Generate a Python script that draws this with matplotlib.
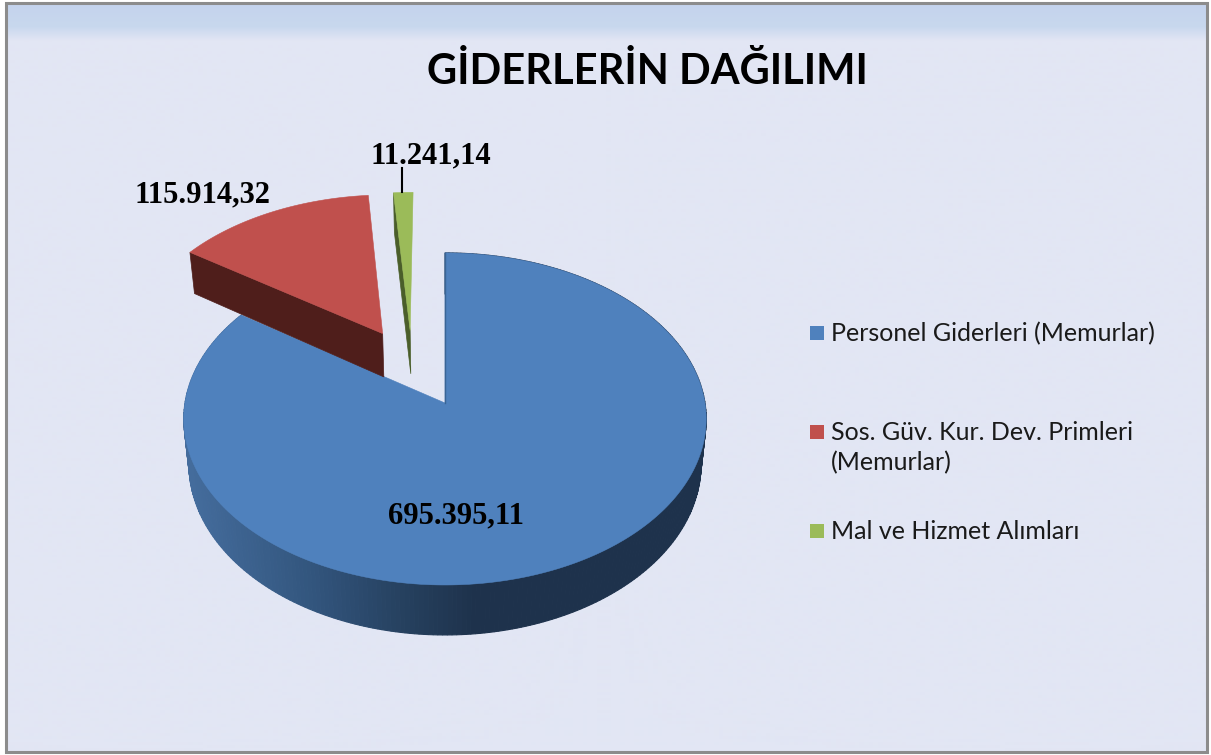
import numpy as np
import matplotlib; matplotlib.use("Agg")
import matplotlib.pyplot as plt
from matplotlib.patches import Rectangle

title = 'GİDERLERİN DAĞILIMI'
categories = ['Personel Giderleri (Memurlar)', 'Sos. Güv. Kur. Dev. Primleri\n(Memurlar)', 'Mal ve Hizmet Alımları']
values = [695395.11, 115914.32, 11241.14]
value_labels = ['695.395,11', '115.914,32', '11.241,14']

colors = ['#4F81BD', '#C0504D', '#9BBB59']
wall_colors = ['#1F3550', '#4F1E1B', '#4A5E2A']
explode = [(0, 0), (-0.25, 0.44), (-0.14, 0.46)]
label_pos = [(456, 516), (202, 195), (431, 156)]
legend_y = [333, 432, 531]

# perspective of the pie, in pixels of the picture
cx, cy = 445, 403
rx, ry = 260, 164.5
persp = 0.096
depth = 45.2
shrink = 0.02


def project(u, v, z=0):
    w = 1 + persp * v
    x = cx + rx * u / (w + shrink * z)
    y = cy + (-ry * v + depth * z) / w
    return x, y


def rim_color(x):
    xs = [190, 313, 402, 473]
    r = np.interp(x, xs, [68, 50, 38, 30])
    g = np.interp(x, xs, [108, 85, 65, 50])
    b = np.interp(x, xs, [156, 125, 95, 76])
    return (r / 255, g / 255, b / 255)


fig = plt.figure(figsize=(12.11, 7.55), dpi=100)
ax = fig.add_axes([0, 0, 1, 1])
ax.axis('off')

# background with the band on top
rows = np.arange(5, 753)
bg = np.zeros((len(rows), 1, 3))
bg[:, 0, 0] = np.interp(rows, [5, 28, 42, 753], [196, 200, 226, 226])
bg[:, 0, 1] = np.interp(rows, [5, 28, 42, 753], [211, 216, 230, 230])
bg[:, 0, 2] = np.interp(rows, [5, 28, 42, 753], [237, 238, 244, 244])
ax.imshow(bg / 255, extent=(6, 1207, 752, 3), aspect='auto', zorder=0)
ax.set_xlim(0, 1211)
ax.set_ylim(755, 0)
ax.add_patch(Rectangle((6, 3), 1201, 749, fill=False, ec='#8C8C8C', lw=2.2, zorder=1))

total = sum(values)
start = 0
for i, val in enumerate(values):
    end = start + val / total * 2 * np.pi
    th = np.linspace(start, end, max(int((end - start) * 60), 8))
    du, dv = explode[i]
    u = np.sin(th) + du
    v = np.cos(th) + dv

    # cut wall on the left edge of the exploded slices
    if i > 0:
        xt, yt = project(np.array([du, u[0]]), np.array([dv, v[0]]))
        xb, yb = project(np.array([du, u[0]]), np.array([dv, v[0]]), 1)
        ax.fill(np.r_[xt, xb[::-1]], np.r_[yt, yb[::-1]], color=wall_colors[i], lw=0.5, zorder=3 + i)

    # outer rim, only the blue one can be seen
    if i == 0:
        for j in range(len(th) - 1):
            xt, yt = project(u[j:j + 2], v[j:j + 2])
            xb, yb = project(u[j:j + 2], v[j:j + 2], 1)
            ax.fill(np.r_[xt, xb[::-1]], np.r_[yt, yb[::-1]], color=rim_color(xt.mean()),
                    lw=0.8, zorder=2)
        x0, y0 = project(np.array([du, u[0]]), np.array([dv, v[0]]))
        ax.plot(x0, y0, color='#3A6595', lw=1, zorder=4)

    x, y = project(np.r_[du, u], np.r_[dv, v])
    ax.fill(x, y, color=colors[i], lw=0.4, zorder=3 + i + 0.5)
    start = end

# leader of the small slice
ax.plot([402, 402], [168, 192], color='black', lw=1.5, zorder=8)

for lab, pos in zip(value_labels, label_pos):
    ax.text(pos[0], pos[1], lab, family='Liberation Serif', weight='bold', fontsize=22,
            color='black', ha='center', va='center', zorder=9)

ax.text(647, 72, title, family='Lato', weight='bold', fontsize=30, color='black',
        ha='center', va='center', zorder=9)

for name, col, ly in zip(categories, colors, legend_y):
    ax.add_patch(Rectangle((810, ly - 7), 14, 14, fc=col, ec='none', zorder=9))
    ax.text(831, ly - 11, name, family='Lato', fontsize=18, color='#1A1A1A',
            ha='left', va='top', linespacing=1.36, zorder=9)

fig.savefig('out.png', dpi=100)
